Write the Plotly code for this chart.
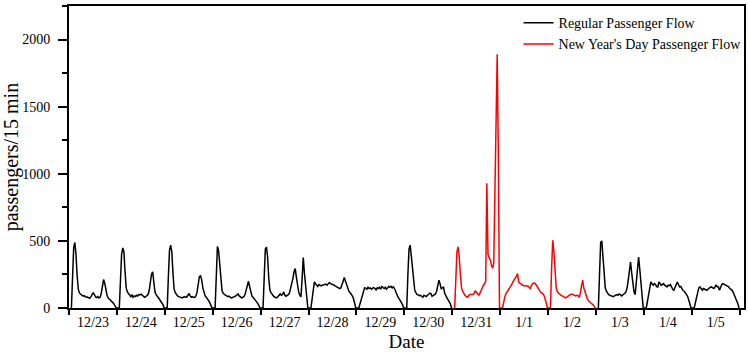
import plotly.graph_objects as go

# ---------------- data ----------------
dates = ["12/23", "12/24", "12/25", "12/26", "12/27", "12/28", "12/29",
         "12/30", "12/31", "1/1", "1/2", "1/3", "1/4", "1/5"]
holiday_days = ["12/31", "1/1", "1/2"]

d1223 = [0, 260, 450, 488, 400, 240, 140, 112, 100, 95, 90, 92, 85, 80, 82, 75, 72, 85, 105, 115,
         100, 82, 78, 85, 75, 80, 110, 170, 212, 185, 130, 95, 75, 68, 55, 48, 40, 30, 15, 0]
d1224 = [0, 200, 400, 448, 420, 270, 150, 120, 105, 95, 85, 100, 80, 90, 85, 95, 90, 100, 98, 103,
         95, 85, 80, 85, 90, 100, 130, 190, 250, 270, 180, 120, 100, 90, 75, 65, 50, 40, 25, 0]
d1225 = [0, 230, 430, 468, 420, 260, 140, 115, 100, 90, 85, 80, 78, 75, 80, 85, 80, 82, 95, 108,
         90, 80, 85, 78, 80, 90, 120, 180, 235, 239, 210, 150, 110, 90, 80, 70, 55, 40, 20, 0]
d1226 = [0, 300, 458, 430, 330, 200, 130, 110, 100, 95, 90, 85, 88, 80, 75, 78, 80, 85, 90, 100,
         105, 90, 80, 75, 80, 85, 100, 140, 185, 199, 160, 110, 90, 80, 70, 60, 45, 35, 20, 0]
d1227 = [0, 250, 440, 453, 380, 220, 132, 115, 100, 90, 82, 78, 75, 85, 95, 105, 95, 100, 120, 95,
         88, 92, 100, 110, 140, 170, 220, 270, 294, 230, 170, 120, 95, 83, 220, 376, 260, 170, 80, 0]
d1228 = [0, 80, 150, 194, 180, 165, 160, 175, 168, 165, 170, 172, 175, 178, 170, 185, 190, 182, 180, 175,
         170, 165, 160, 155, 150, 145, 150, 170, 200, 227, 200, 170, 140, 125, 115, 105, 90, 70, 40, 0]
d1229 = [0, 30, 70, 110, 135, 150, 148, 140, 155, 145, 150, 140, 148, 152, 145, 135, 150, 145, 155, 140,
         160, 150, 145, 155, 140, 150, 160, 155, 162, 150, 158, 145, 120, 95, 82, 70, 55, 45, 25, 0]
d1230 = [0, 250, 440, 468, 380, 260, 169, 130, 115, 100, 98, 92, 95, 85, 80, 95, 90, 85, 95, 105,
         110, 108, 88, 92, 100, 105, 125, 160, 207, 180, 140, 150, 155, 110, 85, 75, 60, 45, 30, 0]
d1231 = [0, 250, 420, 455, 380, 250, 150, 125, 105, 95, 85, 80, 90, 100, 100, 98, 100, 110, 130, 115,
         100, 95, 110, 130, 160, 170, 180, 200, 930, 400, 375, 360, 320, 296, 330, 930, 1480, 1890, 1150, 0]
d0101 = [0, 57, 85, 108, 120, 132, 145, 157, 175, 195, 206, 219, 235, 256, 194, 185, 178, 170, 168, 165,
         162, 164, 165, 150, 144, 165, 181, 185, 186, 175, 160, 144, 130, 119, 112, 107, 95, 70, 40, 0]
d0102 = [0, 300, 505, 420, 293, 150, 120, 110, 100, 95, 90, 88, 80, 75, 80, 88, 95, 100, 102, 103,
         98, 92, 90, 95, 92, 80, 110, 165, 207, 150, 120, 100, 70, 55, 45, 38, 30, 25, 12, 0]
d0103 = [0, 280, 490, 500, 360, 200, 150, 125, 110, 100, 95, 92, 88, 85, 90, 95, 100, 95, 105, 100,
         90, 95, 100, 110, 120, 150, 210, 290, 343, 260, 170, 120, 100, 180, 300, 380, 290, 170, 60, 0]
d0104 = [0, 50, 120, 175, 194, 180, 170, 182, 175, 160, 157, 194, 180, 170, 175, 182, 170, 165, 157, 170,
         165, 175, 150, 140, 132, 150, 175, 194, 175, 157, 160, 140, 130, 125, 115, 100, 85, 60, 30, 0]
d0105 = [0, 40, 90, 130, 150, 157, 140, 132, 145, 140, 135, 132, 140, 150, 155, 157, 150, 145, 155, 170,
         160, 157, 132, 160, 175, 182, 178, 170, 165, 160, 157, 145, 140, 132, 115, 95, 80, 57, 32, 0]

daily = [d1223, d1224, d1225, d1226, d1227, d1228, d1229,
         d1230, d1231, d0101, d0102, d0103, d0104, d0105]

# ---------------- build traces ----------------
DAY_START, DAY_STEP = 0.05, 0.024   # fraction of a day: service window mapped onto each day slot

def day_xy(d, vals):
    xs = [d + DAY_START + DAY_STEP * i for i in range(len(vals))]
    return xs, list(vals)

reg_x, reg_y, hol_x, hol_y = [], [], [], []
prev_holiday = None
for d, (lab, vals) in enumerate(zip(dates, daily)):
    xs, ys = day_xy(d, vals)
    if lab in holiday_days:
        hol_x += xs
        hol_y += ys
        prev_holiday = True
    else:
        if prev_holiday:
            reg_x.append(None)
            reg_y.append(None)
        reg_x += xs
        reg_y += ys
        prev_holiday = False

FONT = "Liberation Serif, Times New Roman, serif"

fig = go.Figure()
fig.add_trace(go.Scatter(x=reg_x, y=reg_y, mode="lines", name="Regular Passenger Flow",
                         line=dict(color="black", width=1.5), connectgaps=False))
fig.add_trace(go.Scatter(x=hol_x, y=hol_y, mode="lines", name="New Year's Day Passenger Flow",
                         line=dict(color="#ff0000", width=1.5)))

fig.update_layout(
    width=748, height=354,
    margin=dict(l=69, r=4, t=6, b=46, autoexpand=False),
    paper_bgcolor="white", plot_bgcolor="white",
    font=dict(family=FONT, size=14, color="black"),
    showlegend=True,
    legend=dict(x=0.666, xanchor="left", y=0.996, yanchor="top",
                bgcolor="rgba(0,0,0,0)", font=dict(family=FONT, size=14),
                itemwidth=30, tracegroupgap=0),
)
fig.update_xaxes(
    range=[0, 14.09],
    tickmode="array", tickvals=[d + 0.5 for d in range(len(dates))], ticktext=dates,
    ticks="", showgrid=False, zeroline=False,
    showline=True, linecolor="black", linewidth=2, mirror=True,
    minor=dict(tickmode="array", tickvals=list(range(len(dates) + 1)),
               ticks="outside", ticklen=5, tickwidth=1.5, tickcolor="black", showgrid=False),
    tickfont=dict(family=FONT, size=14),
    title=dict(text="Date", font=dict(family=FONT, size=19), standoff=6),
)
fig.update_yaxes(
    range=[0, 2250],
    tickmode="array", tickvals=[0, 500, 1000, 1500, 2000],
    ticks="outside", ticklen=9, tickwidth=1.5, tickcolor="black",
    minor=dict(tickmode="array", tickvals=[250, 750, 1250, 1750, 2250],
               ticks="outside", ticklen=5, tickwidth=1.5, tickcolor="black", showgrid=False),
    showgrid=False, zeroline=False,
    showline=True, linecolor="black", linewidth=2, mirror=True,
    ticklabelstandoff=5,
    tickfont=dict(family=FONT, size=14),
    title=dict(text="passengers/15 min", font=dict(family=FONT, size=20), standoff=8),
)

fig.write_html("out.html")
